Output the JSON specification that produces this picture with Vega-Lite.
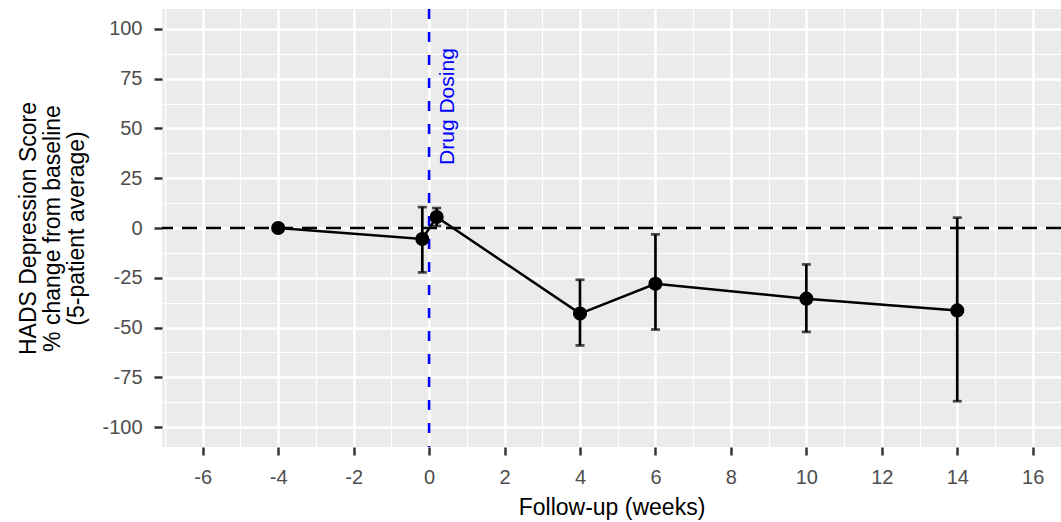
{
  "$schema": "https://vega.github.io/schema/vega-lite/v6.json",
  "width": 899,
  "height": 438,
  "autosize": {"type": "none"},
  "padding": {"left": 162, "top": 9, "right": 0, "bottom": 75},
  "background": "white",
  "config": {
    "view": {"fill": "#EBEBEB", "stroke": null},
    "mark": {"aria": false, "tooltip": null},
    "style": {"guide-title": {"lineBreak": "\n"}},
    "axis": {
      "labelFont": "Liberation Sans",
      "labelFontSize": 20,
      "labelColor": "#4D4D4D",
      "labelExpr": "replace(datum.label, '\u2212', '-')",
      "tickColor": "#333333",
      "tickSize": 8,
      "tickWidth": 2.5,
      "domain": false,
      "gridColor": "white",
      "gridWidth": 2.5,
      "titleFont": "Liberation Sans",
      "titleFontSize": 23,
      "titleFontWeight": "normal",
      "titleColor": "black",
      "labelPadding": 12
    }
  },
  "datasets": {
    "pts": [
      {"week": -4, "change": 0, "lo": null, "hi": null},
      {"week": -0.18, "change": -5.5, "lo": -22.3, "hi": 10.5},
      {"week": 0.2, "change": 5.5, "lo": 1, "hi": 10},
      {"week": 4, "change": -43, "lo": -59, "hi": -26},
      {"week": 6, "change": -28, "lo": -51, "hi": -3.2},
      {"week": 10, "change": -35.5, "lo": -52.2, "hi": -18.3},
      {"week": 14, "change": -41.4, "lo": -87, "hi": 5.2}
    ],
    "note": [{"week": 0.5, "change": 61, "label": "Drug Dosing"}],
    "refs": [{"xref": 0, "yref": 0}]
  },
  "layer": [
    {
      "data": {"name": "pts"},
      "mark": {"type": "point", "opacity": 0},
      "encoding": {
        "x": {"field": "week", "type": "quantitative",
              "scale": {"domain": [-7.08, 16.75], "nice": false, "zero": false},
              "axis": {"orient": "bottom", "values": [-7, -5, -3, -1, 1, 3, 5, 7, 9, 11, 13, 15], "labels": false, "ticks": false, "title": null, "grid": true, "gridWidth": 1.2}},
        "y": {"field": "change", "type": "quantitative",
              "scale": {"domain": [-110, 110], "nice": false, "zero": false},
              "axis": {"orient": "left", "values": [-87.5, -62.5, -37.5, -12.5, 12.5, 37.5, 62.5, 87.5], "labels": false, "ticks": false, "title": null, "grid": true, "gridWidth": 1.2}}
      }
    },
    {
      "layer": [
        {
          "data": {"name": "pts"},
          "mark": {"type": "point", "opacity": 0},
          "encoding": {
            "x": {"field": "week", "type": "quantitative",
                  "scale": {"domain": [-7.08, 16.75], "nice": false, "zero": false},
                  "axis": {"orient": "bottom", "values": [-6, -4, -2, 0, 2, 4, 6, 8, 10, 12, 14, 16], "title": "Follow-up (weeks)", "grid": true, "titlePadding": 9}},
            "y": {"field": "change", "type": "quantitative",
                  "scale": {"domain": [-110, 110], "nice": false, "zero": false},
                  "axis": {"orient": "left", "values": [-100, -75, -50, -25, 0, 25, 50, 75, 100], "title": "HADS Depression Score\n% change from baseline\n(5-patient average)", "titleLineHeight": 24, "grid": true, "titlePadding": 13}}
          }
        },
        {
          "data": {"name": "refs"},
          "mark": {"type": "rule", "color": "black", "strokeWidth": 2.4, "strokeDash": [15, 9]},
          "encoding": {"y": {"field": "yref", "type": "quantitative"}}
        },
        {
          "data": {"name": "refs"},
          "mark": {"type": "rule", "color": "#0000FF", "strokeWidth": 2.6, "strokeDash": [10, 13]},
          "encoding": {"x": {"field": "xref", "type": "quantitative"}}
        },
        {
          "data": {"name": "note"},
          "mark": {"type": "text", "angle": 270, "align": "center", "baseline": "middle", "font": "Liberation Sans", "fontSize": 21, "color": "#0000FF"},
          "encoding": {
            "x": {"field": "week", "type": "quantitative"},
            "y": {"field": "change", "type": "quantitative"},
            "text": {"field": "label"}
          }
        },
        {
          "data": {"name": "pts"},
          "mark": {"type": "errorbar", "ticks": true, "size": 9, "thickness": 2.7, "color": "black"},
          "encoding": {
            "x": {"field": "week", "type": "quantitative"},
            "y": {"field": "lo", "type": "quantitative", "title": "HADS Depression Score\n% change from baseline\n(5-patient average)"},
            "y2": {"field": "hi"},
            "tooltip": null
          }
        },
        {
          "data": {"name": "pts"},
          "mark": {"type": "line", "color": "black", "strokeWidth": 2.5},
          "encoding": {
            "x": {"field": "week", "type": "quantitative"},
            "y": {"field": "change", "type": "quantitative"}
          }
        },
        {
          "data": {"name": "pts"},
          "mark": {"type": "point", "filled": true, "opacity": 1, "color": "black", "size": 200},
          "encoding": {
            "x": {"field": "week", "type": "quantitative"},
            "y": {"field": "change", "type": "quantitative"}
          }
        }
      ]
    }
  ],
  "resolve": {"scale": {"x": "independent", "y": "independent"}, "axis": {"x": "independent", "y": "independent"}}
}
